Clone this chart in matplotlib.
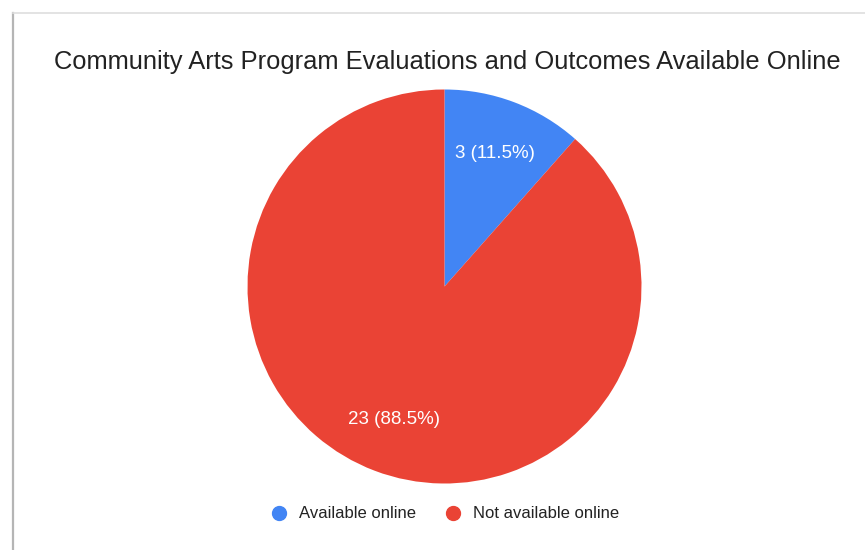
import matplotlib
matplotlib.use("Agg")
import matplotlib.pyplot as plt
from matplotlib.lines import Line2D

plt.rcParams['font.family'] = ['Liberation Sans', 'DejaVu Sans']

title = "Community Arts Program Evaluations and Outcomes Available Online"
categories = ["Available online", "Not available online"]
counts = [3, 23]
colors = ["#4285F4", "#EA4335"]

W, H = 865, 550
fig = plt.figure(figsize=(W / 100, H / 100), dpi=100)
fig.patch.set_facecolor("white")

# card border (left and top edges)
fig.add_artist(Line2D([13 / W, 13 / W], [0, 1 - 13 / H], color="#b5b5b5", lw=1.6))
fig.add_artist(Line2D([13 / W, 1], [1 - 13 / H, 1 - 13 / H], color="#dedede", lw=1.2))

# pie area: centre (444.5, 286.5) px, radius 197 px
cx, cy, r = 444.5, 286.5, 197
ax = fig.add_axes([(cx - r) / W, (H - cy - r) / H, 2 * r / W, 2 * r / H])

total = sum(counts)

def fmt(pct):
    n = int(round(pct * total / 100))
    return f"{n} ({pct:.1f}%)"

wedges, texts, autotexts = ax.pie(
    counts, colors=colors, startangle=90, counterclock=False,
    autopct=fmt, pctdistance=0.72, radius=1,
    wedgeprops=dict(linewidth=0),
    textprops=dict(color="white", fontsize=13.5),
)
ax.set_xlim(-1, 1)
ax.set_ylim(-1, 1)
ax.set_aspect("equal")
ax.axis("off")

fig.text(447 / W, 1 - 62 / H, title, ha="center", va="center",
         fontsize=18.4, color="#222222")

handles = [Line2D([], [], marker="o", linestyle="none", markersize=10,
                  markerfacecolor=c, markeredgecolor=c) for c in colors]
fig.legend(handles, categories, loc="center", bbox_to_anchor=(445 / W, 1 - 514 / H),
           ncol=2, frameon=False, fontsize=12, handlelength=1.0, handletextpad=0.7,
           columnspacing=1.72, labelcolor="#222222")

fig.savefig("out.png", dpi=100, facecolor="white")
